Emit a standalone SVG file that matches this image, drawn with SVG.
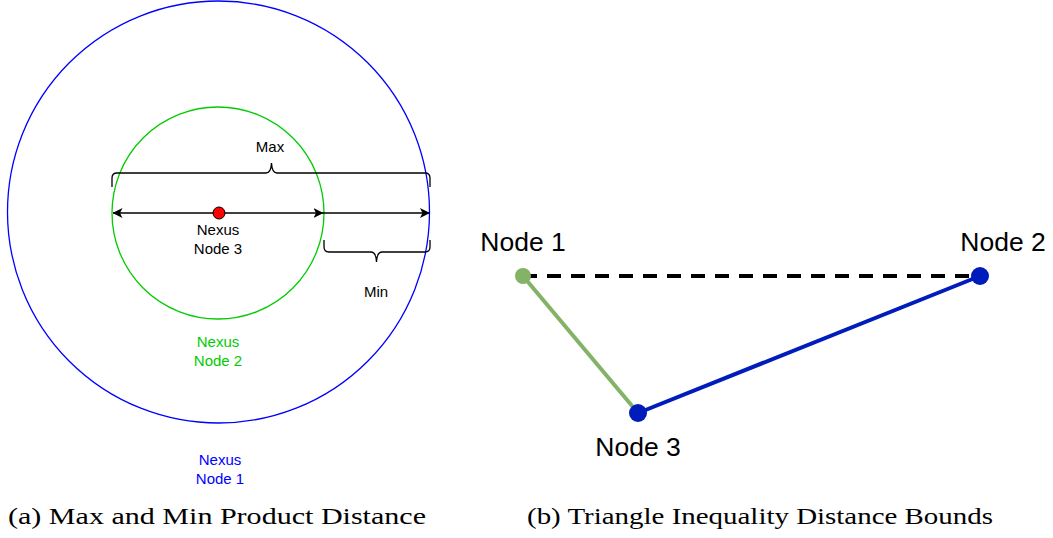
<svg xmlns="http://www.w3.org/2000/svg" width="1053" height="538" viewBox="0 0 1053 538">
  <style>
    .lbl { font-family: "Liberation Sans", Arial, sans-serif; font-size: 15px; text-anchor: middle; }
    .big { font-family: "Liberation Sans", Arial, sans-serif; font-size: 26.5px; text-anchor: middle; fill: #000; }
    .cap { font-family: "Liberation Serif", "Times New Roman", serif; font-size: 23px; fill: #000; }
    .brace { fill: none; stroke: #000; stroke-width: 1.3; }
    .arr { stroke: #000; stroke-width: 1.5; fill: none; }
  </style>
  <defs>
    <marker id="head" viewBox="0 0 10 10" refX="9.5" refY="5" markerWidth="10" markerHeight="10" markerUnits="userSpaceOnUse" orient="auto-start-reverse">
      <path d="M0,0 L10,5 L0,10 L2.5,5 Z" fill="#000"/>
    </marker>
  </defs>
  <rect width="1053" height="538" fill="#fff"/>

  <!-- (a) nested nexus circles -->
  <g id="nexus1">
    <circle cx="218.5" cy="212" r="211" fill="none" stroke="#0000ff" stroke-width="1.3"/>
    <text class="lbl" x="220" y="465" fill="#0000ff">Nexus</text>
    <text class="lbl" x="220" y="484" fill="#0000ff">Node 1</text>
  </g>
  <g id="nexus2">
    <circle cx="218" cy="213" r="106" fill="none" stroke="#00cc00" stroke-width="1.3"/>
    <text class="lbl" x="218" y="347" fill="#00cc00">Nexus</text>
    <text class="lbl" x="218" y="366" fill="#00cc00">Node 2</text>
  </g>

  <g id="connectors-a">
    <line class="arr" x1="218" y1="213" x2="113" y2="213" marker-end="url(#head)"/>
    <line class="arr" x1="218" y1="213" x2="323" y2="213" marker-end="url(#head)"/>
    <line class="arr" x1="323" y1="213" x2="429.5" y2="213" marker-end="url(#head)"/>
    <!-- Max brace -->
    <path class="brace" d="M112,187 L112,178 Q112,173 117,173 L266,173 Q271,173 271.5,163 Q272,173 277,173 L425,173 Q430,173 430,178 L430,187"/>
    <!-- Min brace -->
    <path class="brace" d="M324,240 L324,247 Q324,252 329,252 L371,252 Q376,252 376.5,262 Q377,252 382,252 L425,252 Q430,252 430,247 L430,240"/>
    <text class="lbl" x="270" y="152" fill="#000">Max</text>
    <text class="lbl" x="376" y="297" fill="#000">Min</text>
  </g>

  <g id="nexus3">
    <circle cx="219" cy="213" r="6" fill="#ff0000" stroke="#000" stroke-width="1"/>
    <text class="lbl" x="218" y="235" fill="#000">Nexus</text>
    <text class="lbl" x="218" y="254" fill="#000">Node 3</text>
  </g>

  <!-- (b) triangle inequality -->
  <g id="edges-b">
    <line x1="523" y1="276" x2="980" y2="276" stroke="#000" stroke-width="4" stroke-dasharray="14 10"/>
    <line x1="523" y1="276" x2="638" y2="413" stroke="#82b366" stroke-width="4"/>
    <line x1="638" y1="413" x2="980" y2="276" stroke="#001dbc" stroke-width="4"/>
  </g>
  <g id="node1">
    <circle cx="523" cy="276" r="8" fill="#82b366"/>
    <text class="big" x="523" y="251">Node 1</text>
  </g>
  <g id="node2">
    <circle cx="980" cy="276" r="9" fill="#001dbc"/>
    <text class="big" x="1003" y="251">Node 2</text>
  </g>
  <g id="node3">
    <circle cx="638" cy="413" r="9" fill="#001dbc"/>
    <text class="big" x="638" y="456">Node 3</text>
  </g>

  <!-- captions -->
  <text class="cap" x="8" y="524" textLength="418" lengthAdjust="spacingAndGlyphs">(a) Max and Min Product Distance</text>
  <text class="cap" x="527" y="524" textLength="466" lengthAdjust="spacingAndGlyphs">(b) Triangle Inequality Distance Bounds</text>
</svg>
